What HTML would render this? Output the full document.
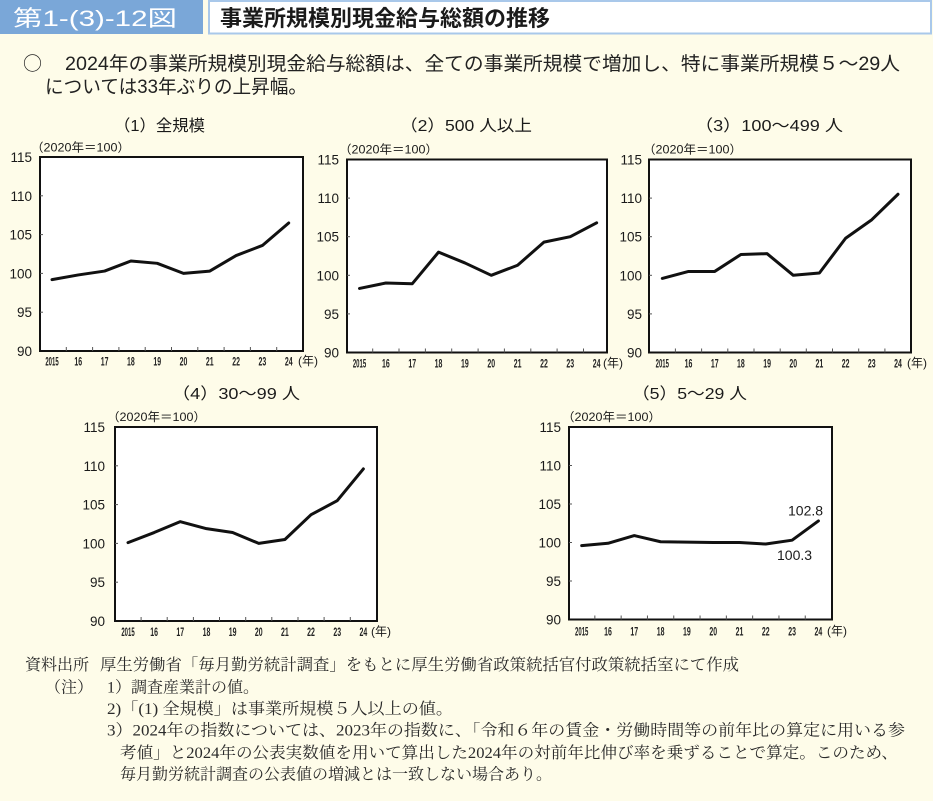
<!DOCTYPE html>
<html lang="ja">
<head>
<meta charset="utf-8">
<style>
  html,body{margin:0;padding:0;background:#fefce9;}
  body{width:933px;height:801px;overflow:hidden;}
  svg{display:block;}
  .sans{font-family:"Liberation Sans","Noto Sans CJK JP",sans-serif;}
  .serif{font-family:"Liberation Serif","Noto Serif CJK SC",serif;}
  .yl{font-family:"Liberation Sans","Noto Sans CJK JP",sans-serif;font-size:13.5px;fill:#1a1a1a;text-anchor:end;}
  .xl{font-family:"Liberation Sans","Noto Sans CJK JP",sans-serif;font-size:12px;font-weight:bold;fill:#222;}
  .ttl{font-family:"Liberation Sans","Noto Sans CJK JP",sans-serif;font-size:16px;fill:#1a1a1a;}
  .unit{font-family:"Liberation Sans","Noto Sans CJK JP",sans-serif;font-size:12px;fill:#1a1a1a;}
  .nen{font-family:"Liberation Sans","Noto Sans CJK JP",sans-serif;font-size:12px;fill:#1a1a1a;}
  .box{fill:#ffffff;stroke:#111;stroke-width:2;}
  .ln{fill:none;stroke:#111;stroke-width:3;stroke-linejoin:round;stroke-linecap:round;}
  .tk{stroke:#555;stroke-width:1;}
  .note{font-family:"Liberation Serif","Noto Serif CJK SC",serif;font-size:16px;fill:#2a2a2a;}
</style>
</head>
<body>
<svg width="933" height="801" viewBox="0 0 933 801" xmlns="http://www.w3.org/2000/svg">
  <rect x="0" y="0" width="933" height="801" fill="#fefce9"/>
  <!-- header -->
  <rect x="0" y="0" width="203" height="34" fill="#7aa7d8"/>
  <text x="13" y="26" class="sans" font-size="22" fill="#ffffff" textLength="164" lengthAdjust="spacingAndGlyphs">第1-(3)-12図</text>
  <rect x="209" y="1" width="722" height="32.5" fill="#ffffff" stroke="#a9c8ea" stroke-width="2"/>
  <text x="220" y="26" class="sans" font-size="22" font-weight="bold" fill="#1a1a1a" textLength="330" lengthAdjust="spacingAndGlyphs">事業所規模別現金給与総額の推移</text>

  <!-- summary -->
  <text x="23" y="70" font-family="'Noto Sans CJK JP',sans-serif" font-size="19" fill="#222">○</text>
  <text x="65" y="70" class="sans" font-size="19" fill="#222" textLength="835" lengthAdjust="spacingAndGlyphs">2024年の事業所規模別現金給与総額は、全ての事業所規模で増加し、特に事業所規模５～29人</text>
  <text x="45" y="93" class="sans" font-size="19" fill="#222" textLength="262" lengthAdjust="spacingAndGlyphs">については33年ぶりの上昇幅。</text>

  <!-- ===== Chart 1 ===== -->
  <text x="114" y="131" class="ttl" textLength="91" lengthAdjust="spacingAndGlyphs">（1）全規模</text>
  <text x="31" y="151.5" class="unit" textLength="99" lengthAdjust="spacingAndGlyphs">（2020年＝100）</text>
  <rect x="40" y="157" width="263" height="194" class="box"/>
  <g class="tk">
    <line x1="40" y1="195.8" x2="43" y2="195.8"/><line x1="40" y1="234.6" x2="43" y2="234.6"/><line x1="40" y1="273.4" x2="43" y2="273.4"/><line x1="40" y1="312.2" x2="43" y2="312.2"/>
    <line x1="66.3" y1="351" x2="66.3" y2="347"/><line x1="92.6" y1="351" x2="92.6" y2="347"/><line x1="118.9" y1="351" x2="118.9" y2="347"/><line x1="145.2" y1="351" x2="145.2" y2="347"/><line x1="171.5" y1="351" x2="171.5" y2="347"/><line x1="197.8" y1="351" x2="197.8" y2="347"/><line x1="224.1" y1="351" x2="224.1" y2="347"/><line x1="250.4" y1="351" x2="250.4" y2="347"/><line x1="276.7" y1="351" x2="276.7" y2="347"/>
  </g>
  <text x="32" y="162" class="yl">115</text>
  <text x="32" y="200.8" class="yl">110</text>
  <text x="32" y="239.6" class="yl">105</text>
  <text x="32" y="278.4" class="yl">100</text>
  <text x="32" y="317.2" class="yl">95</text>
  <text x="32" y="356" class="yl">90</text>
  <g class="xl" text-anchor="middle">
    <text transform="translate(52 365.5) scale(0.5 1)">2015</text>
    <text transform="translate(78.3 365.5) scale(0.58 1)">16</text>
    <text transform="translate(104.6 365.5) scale(0.58 1)">17</text>
    <text transform="translate(130.9 365.5) scale(0.58 1)">18</text>
    <text transform="translate(157.2 365.5) scale(0.58 1)">19</text>
    <text transform="translate(183.5 365.5) scale(0.58 1)">20</text>
    <text transform="translate(209.8 365.5) scale(0.58 1)">21</text>
    <text transform="translate(236.1 365.5) scale(0.58 1)">22</text>
    <text transform="translate(262.4 365.5) scale(0.58 1)">23</text>
    <text transform="translate(288.7 365.5) scale(0.58 1)">24</text>
  </g>
  <text x="298" y="365" class="nen">(年)</text>
  <polyline class="ln" points="52,279.61 78.3,274.95 104.6,271.07 130.9,260.98 157.2,263.31 183.5,273.4 209.8,271.07 236.1,255.55 262.4,245.46 288.7,222.96"/>

  <!-- ===== Chart 2 ===== -->
  <text x="400" y="131" class="ttl" textLength="132" lengthAdjust="spacingAndGlyphs">（2）500 人以上</text>
  <text x="339" y="153.5" class="unit" textLength="99" lengthAdjust="spacingAndGlyphs">（2020年＝100）</text>
  <rect x="347" y="159.5" width="260" height="193" class="box"/>
  <g class="tk">
    <line x1="347" y1="198.1" x2="350" y2="198.1"/><line x1="347" y1="236.7" x2="350" y2="236.7"/><line x1="347" y1="275.3" x2="350" y2="275.3"/><line x1="347" y1="313.9" x2="350" y2="313.9"/>
    <line x1="372.7" y1="352.5" x2="372.7" y2="348.5"/><line x1="399" y1="352.5" x2="399" y2="348.5"/><line x1="425.4" y1="352.5" x2="425.4" y2="348.5"/><line x1="451.7" y1="352.5" x2="451.7" y2="348.5"/><line x1="478.1" y1="352.5" x2="478.1" y2="348.5"/><line x1="504.4" y1="352.5" x2="504.4" y2="348.5"/><line x1="530.8" y1="352.5" x2="530.8" y2="348.5"/><line x1="557.1" y1="352.5" x2="557.1" y2="348.5"/><line x1="583.5" y1="352.5" x2="583.5" y2="348.5"/>
  </g>
  <text x="339" y="164.5" class="yl">115</text>
  <text x="339" y="203.1" class="yl">110</text>
  <text x="339" y="241.7" class="yl">105</text>
  <text x="339" y="280.3" class="yl">100</text>
  <text x="339" y="318.9" class="yl">95</text>
  <text x="339" y="357.5" class="yl">90</text>
  <g class="xl" text-anchor="middle">
    <text transform="translate(359.5 367.5) scale(0.5 1)">2015</text>
    <text transform="translate(385.85 367.5) scale(0.58 1)">16</text>
    <text transform="translate(412.2 367.5) scale(0.58 1)">17</text>
    <text transform="translate(438.55 367.5) scale(0.58 1)">18</text>
    <text transform="translate(464.9 367.5) scale(0.58 1)">19</text>
    <text transform="translate(491.25 367.5) scale(0.58 1)">20</text>
    <text transform="translate(517.6 367.5) scale(0.58 1)">21</text>
    <text transform="translate(543.95 367.5) scale(0.58 1)">22</text>
    <text transform="translate(570.3 367.5) scale(0.58 1)">23</text>
    <text transform="translate(596.65 367.5) scale(0.58 1)">24</text>
  </g>
  <text x="603" y="367" class="nen">(年)</text>
  <polyline class="ln" points="359.5,288.42 385.85,283.02 412.2,283.79 438.55,252.14 464.9,262.95 491.25,275.3 517.6,265.26 543.95,242.1 570.3,236.7 596.65,222.8"/>

  <!-- ===== Chart 3 ===== -->
  <text x="695" y="131" class="ttl" textLength="148" lengthAdjust="spacingAndGlyphs">（3）100～499 人</text>
  <text x="643" y="153.5" class="unit" textLength="99" lengthAdjust="spacingAndGlyphs">（2020年＝100）</text>
  <rect x="649" y="159.5" width="262" height="193" class="box"/>
  <g class="tk">
    <line x1="649" y1="198.1" x2="652" y2="198.1"/><line x1="649" y1="236.7" x2="652" y2="236.7"/><line x1="649" y1="275.3" x2="652" y2="275.3"/><line x1="649" y1="313.9" x2="652" y2="313.9"/>
    <line x1="675.4" y1="352.5" x2="675.4" y2="348.5"/><line x1="701.6" y1="352.5" x2="701.6" y2="348.5"/><line x1="727.8" y1="352.5" x2="727.8" y2="348.5"/><line x1="754" y1="352.5" x2="754" y2="348.5"/><line x1="780.2" y1="352.5" x2="780.2" y2="348.5"/><line x1="806.3" y1="352.5" x2="806.3" y2="348.5"/><line x1="832.5" y1="352.5" x2="832.5" y2="348.5"/><line x1="858.7" y1="352.5" x2="858.7" y2="348.5"/><line x1="884.9" y1="352.5" x2="884.9" y2="348.5"/>
  </g>
  <text x="642" y="164.5" class="yl">115</text>
  <text x="642" y="203.1" class="yl">110</text>
  <text x="642" y="241.7" class="yl">105</text>
  <text x="642" y="280.3" class="yl">100</text>
  <text x="642" y="318.9" class="yl">95</text>
  <text x="642" y="357.5" class="yl">90</text>
  <g class="xl" text-anchor="middle">
    <text transform="translate(662.3 367.5) scale(0.5 1)">2015</text>
    <text transform="translate(688.5 367.5) scale(0.58 1)">16</text>
    <text transform="translate(714.7 367.5) scale(0.58 1)">17</text>
    <text transform="translate(740.9 367.5) scale(0.58 1)">18</text>
    <text transform="translate(767.1 367.5) scale(0.58 1)">19</text>
    <text transform="translate(793.3 367.5) scale(0.58 1)">20</text>
    <text transform="translate(819.4 367.5) scale(0.58 1)">21</text>
    <text transform="translate(845.6 367.5) scale(0.58 1)">22</text>
    <text transform="translate(871.8 367.5) scale(0.58 1)">23</text>
    <text transform="translate(898 367.5) scale(0.58 1)">24</text>
  </g>
  <text x="907" y="367" class="nen">(年)</text>
  <polyline class="ln" points="662.3,278.39 688.5,271.44 714.7,271.44 740.9,254.46 767.1,253.68 793.3,275.3 819.4,272.98 845.6,238.24 871.8,219.72 898,194.24"/>

  <!-- ===== Chart 4 ===== -->
  <text x="172" y="399" class="ttl" textLength="128" lengthAdjust="spacingAndGlyphs">（4）30～99 人</text>
  <text x="107" y="421" class="unit" textLength="99" lengthAdjust="spacingAndGlyphs">（2020年＝100）</text>
  <rect x="115" y="427" width="262" height="194" class="box"/>
  <g class="tk">
    <line x1="115" y1="465.8" x2="118" y2="465.8"/><line x1="115" y1="504.6" x2="118" y2="504.6"/><line x1="115" y1="543.4" x2="118" y2="543.4"/><line x1="115" y1="582.2" x2="118" y2="582.2"/>
    <line x1="141.1" y1="621" x2="141.1" y2="617"/><line x1="167.2" y1="621" x2="167.2" y2="617"/><line x1="193.4" y1="621" x2="193.4" y2="617"/><line x1="219.5" y1="621" x2="219.5" y2="617"/><line x1="245.7" y1="621" x2="245.7" y2="617"/><line x1="271.8" y1="621" x2="271.8" y2="617"/><line x1="298" y1="621" x2="298" y2="617"/><line x1="324.1" y1="621" x2="324.1" y2="617"/><line x1="350.3" y1="621" x2="350.3" y2="617"/>
  </g>
  <text x="105" y="432" class="yl">115</text>
  <text x="105" y="470.8" class="yl">110</text>
  <text x="105" y="509.6" class="yl">105</text>
  <text x="105" y="548.4" class="yl">100</text>
  <text x="105" y="587.2" class="yl">95</text>
  <text x="105" y="626" class="yl">90</text>
  <g class="xl" text-anchor="middle">
    <text transform="translate(128 636) scale(0.5 1)">2015</text>
    <text transform="translate(154.15 636) scale(0.58 1)">16</text>
    <text transform="translate(180.3 636) scale(0.58 1)">17</text>
    <text transform="translate(206.45 636) scale(0.58 1)">18</text>
    <text transform="translate(232.6 636) scale(0.58 1)">19</text>
    <text transform="translate(258.75 636) scale(0.58 1)">20</text>
    <text transform="translate(284.9 636) scale(0.58 1)">21</text>
    <text transform="translate(311.05 636) scale(0.58 1)">22</text>
    <text transform="translate(337.2 636) scale(0.58 1)">23</text>
    <text transform="translate(363.35 636) scale(0.58 1)">24</text>
  </g>
  <text x="371" y="635.5" class="nen">(年)</text>
  <polyline class="ln" points="128,542.62 154.15,532.54 180.3,521.67 206.45,528.66 232.6,532.54 258.75,543.4 284.9,539.52 311.05,514.69 337.2,500.72 363.35,468.9"/>

  <!-- ===== Chart 5 ===== -->
  <text x="632" y="399" class="ttl" textLength="115" lengthAdjust="spacingAndGlyphs">（5）5～29 人</text>
  <text x="562" y="421" class="unit" textLength="99" lengthAdjust="spacingAndGlyphs">（2020年＝100）</text>
  <rect x="569" y="427" width="263" height="192.5" class="box"/>
  <g class="tk">
    <line x1="569" y1="465.5" x2="572" y2="465.5"/><line x1="569" y1="504" x2="572" y2="504"/><line x1="569" y1="542.5" x2="572" y2="542.5"/><line x1="569" y1="581" x2="572" y2="581"/>
    <line x1="594.85" y1="619.5" x2="594.85" y2="615.5"/><line x1="621.15" y1="619.5" x2="621.15" y2="615.5"/><line x1="647.45" y1="619.5" x2="647.45" y2="615.5"/><line x1="673.75" y1="619.5" x2="673.75" y2="615.5"/><line x1="700.05" y1="619.5" x2="700.05" y2="615.5"/><line x1="726.35" y1="619.5" x2="726.35" y2="615.5"/><line x1="752.65" y1="619.5" x2="752.65" y2="615.5"/><line x1="778.95" y1="619.5" x2="778.95" y2="615.5"/><line x1="805.25" y1="619.5" x2="805.25" y2="615.5"/>
  </g>
  <text x="561" y="432" class="yl">115</text>
  <text x="561" y="470.5" class="yl">110</text>
  <text x="561" y="509" class="yl">105</text>
  <text x="561" y="547.5" class="yl">100</text>
  <text x="561" y="586" class="yl">95</text>
  <text x="561" y="624.5" class="yl">90</text>
  <g class="xl" text-anchor="middle">
    <text transform="translate(581.7 635.5) scale(0.5 1)">2015</text>
    <text transform="translate(608 635.5) scale(0.58 1)">16</text>
    <text transform="translate(634.3 635.5) scale(0.58 1)">17</text>
    <text transform="translate(660.6 635.5) scale(0.58 1)">18</text>
    <text transform="translate(686.9 635.5) scale(0.58 1)">19</text>
    <text transform="translate(713.2 635.5) scale(0.58 1)">20</text>
    <text transform="translate(739.5 635.5) scale(0.58 1)">21</text>
    <text transform="translate(765.8 635.5) scale(0.58 1)">22</text>
    <text transform="translate(792.1 635.5) scale(0.58 1)">23</text>
    <text transform="translate(818.4 635.5) scale(0.58 1)">24</text>
  </g>
  <text x="827" y="635" class="nen">(年)</text>
  <polyline class="ln" points="581.7,545.58 608,543.27 634.3,535.57 660.6,541.73 686.9,542.11 713.2,542.5 739.5,542.5 765.8,544.04 792.1,540.19 818.4,520.94"/>
  <text x="788" y="515.7" class="sans" font-size="14" fill="#1a1a1a">102.8</text>
  <text x="777" y="560" class="sans" font-size="14" fill="#1a1a1a">100.3</text>

  <!-- ===== Notes ===== -->
  <text x="25" y="670" class="note">資料出所</text>
  <text x="100" y="670" class="note" textLength="639" lengthAdjust="spacingAndGlyphs">厚生労働省「毎月勤労統計調査」をもとに厚生労働省政策統括官付政策統括室にて作成</text>
  <text x="45" y="692.5" class="note">（注）</text>
  <text x="107" y="692.5" class="note">1）調査産業計の値。</text>
  <text x="107" y="714" class="note" textLength="346" lengthAdjust="spacingAndGlyphs">2)「(1) 全規模」は事業所規模５人以上の値。</text>
  <text x="107" y="735.5" class="note" textLength="798" lengthAdjust="spacingAndGlyphs">3）2024年の指数については、2023年の指数に、「令和６年の賃金・労働時間等の前年比の算定に用いる参</text>
  <text x="120" y="758" class="note" textLength="778" lengthAdjust="spacingAndGlyphs">考値」と2024年の公表実数値を用いて算出した2024年の対前年比伸び率を乗ずることで算定。このため、</text>
  <text x="120" y="779.5" class="note" textLength="432" lengthAdjust="spacingAndGlyphs">毎月勤労統計調査の公表値の増減とは一致しない場合あり。</text>
</svg>
</body>
</html>
